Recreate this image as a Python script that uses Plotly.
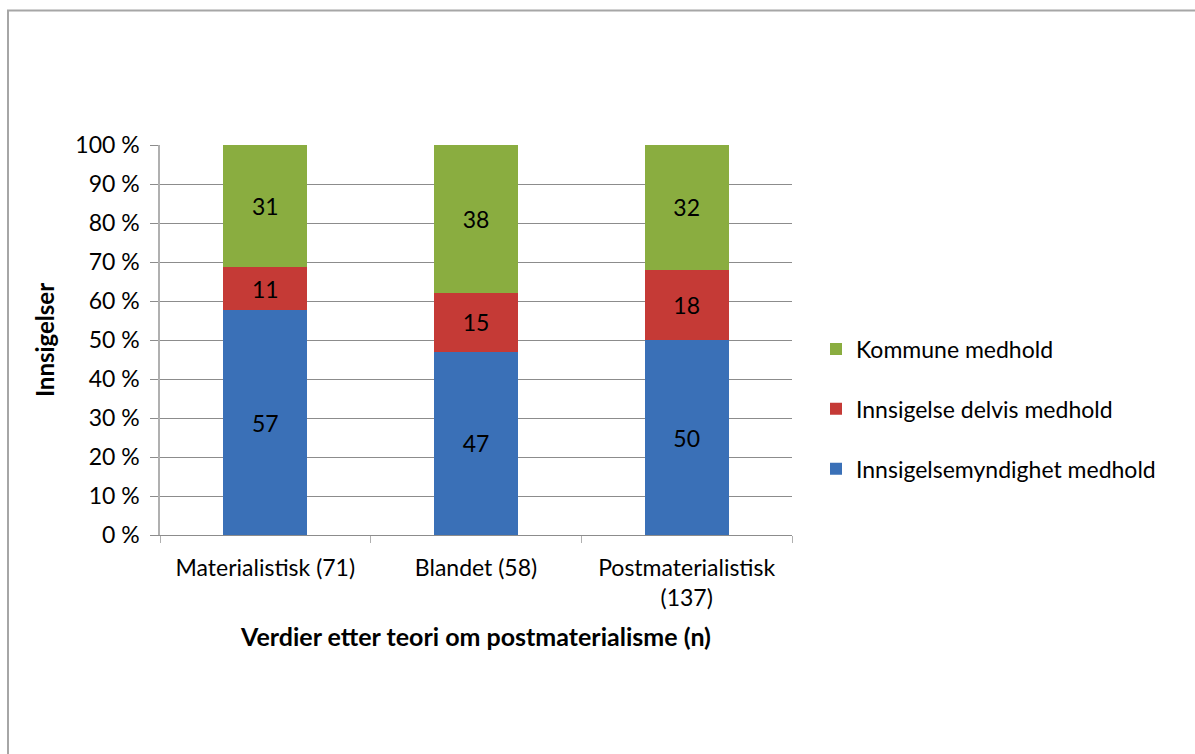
import plotly.graph_objects as go

categories = ["Materialistisk (71)", "Blandet (58)", "Postmaterialistisk<br>(137)"]
series_names = ["Innsigelsemyndighet medhold", "Innsigelse delvis medhold", "Kommune medhold"]
innsigelsemyndighet = [57, 47, 50]
delvis = [11, 15, 18]
kommune = [31, 38, 32]
y_ticks = [0, 10, 20, 30, 40, 50, 60, 70, 80, 90, 100]
y_tick_labels = ["0 %", "10 %", "20 %", "30 %", "40 %", "50 %", "60 %", "70 %", "80 %", "90 %", "100 %"]

colors = ["#3a70b7", "#c53a36", "#8aad40"]
legend_ranks = [3, 2, 1]
FONT = "Lato"
FS = 23

fig = go.Figure()
for name, vals, col, rk in zip(series_names, [innsigelsemyndighet, delvis, kommune], colors, legend_ranks):
    fig.add_trace(go.Bar(
        x=categories, y=vals, name=name, legendgroup=name, legendrank=rk,
        marker=dict(color=col, line=dict(width=0)),
        text=[str(v) for v in vals], textposition="inside",
        insidetextanchor="middle",
        textfont=dict(color="black", size=FS, family=FONT),
        hoverinfo="skip",
    ))

fig.update_layout(
    barmode="stack", barnorm="percent", bargap=0.6,
    width=1195, height=754,
    margin=dict(l=160, r=403, t=145, b=219),
    paper_bgcolor="white", plot_bgcolor="white",
    font=dict(family=FONT, size=FS, color="black"),
    showlegend=True,
    legend=dict(
        x=1 + 24 / 632, xanchor="left", xref="paper", y=(535 - 409) / 390, yanchor="middle",
        traceorder="grouped", tracegroupgap=27,
        font=dict(size=FS, family=FONT), itemwidth=30,
        bgcolor="rgba(0,0,0,0)",
    ),
    uniformtext=dict(minsize=FS, mode="show"),
)
fig.update_yaxes(
    range=[0, 100], tickvals=y_ticks, ticktext=y_tick_labels,
    showgrid=True, gridcolor="#8c8c8c", gridwidth=1,
    showline=True, linecolor="#b0b0b0", linewidth=1.5,
    ticks="outside", ticklen=8, tickcolor="#8c8c8c",
    ticklabelstandoff=6,
    tickfont=dict(size=FS, family=FONT),
    title=dict(text="<b>Innsigelser</b>", font=dict(size=24, family=FONT), standoff=14),
    zeroline=False,
)
fig.update_xaxes(
    showline=True, linecolor="#8c8c8c", linewidth=1,
    ticks="outside", ticklen=7, tickcolor="#b0b0b0", tickson="boundaries",
    ticklabelstandoff=12,
    tickfont=dict(size=FS, family=FONT),
    title=dict(text="<b>Verdier etter teori om postmaterialisme (n)</b>", font=dict(size=25, family=FONT), standoff=18),
)
# chart area border (Excel chart frame)
fig.add_shape(type="rect", xref="paper", yref="paper",
              x0=(8 - 160) / 632, x1=(1210 - 160) / 632,
              y0=(535 - 770) / 390, y1=(535 - 10.5) / 390,
              line=dict(color="#a6a6a6", width=2), fillcolor="rgba(0,0,0,0)", layer="below")

fig.write_html("out.html")
